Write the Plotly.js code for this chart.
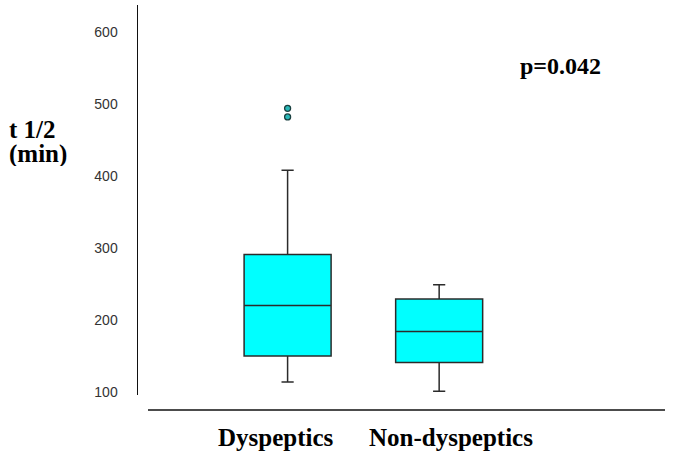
<!DOCTYPE html>
<html>
<head>
<meta charset="utf-8">
<script src="https://cdn.plot.ly/plotly-3.0.1.min.js"></script>
<style>html,body{margin:0;padding:0;background:#fff;}#chart{width:685px;height:456px;}</style>
</head>
<body>
<div id="chart"></div>
<script>
// Data
const categories = ["Dyspeptics", "Non-dyspeptics"];
const q1Values = [150, 141];
const medianValues = [220, 184];
const q3Values = [291, 229];
const lowerWhisker = [114, 101];
const upperWhisker = [408, 249];
const outlierCategory = ["Dyspeptics", "Dyspeptics"];
const outlierValues = [494, 482];
const yTickValues = [100, 200, 300, 400, 500, 600];
const pValueLabel = "p=0.042";
const yTitleLines = ["t 1/2", "(min)"];

const boxTrace = {
  type: "box",
  x: categories,
  q1: q1Values,
  median: medianValues,
  q3: q3Values,
  lowerfence: lowerWhisker,
  upperfence: upperWhisker,
  fillcolor: "#00FFFF",
  line: {color: "#2b2b2b", width: 1.5},
  width: 0.574,
  whiskerwidth: 0.14,
  boxpoints: false,
  hoverinfo: "skip",
  showlegend: false
};

const outlierTrace = {
  type: "scatter",
  mode: "markers",
  x: outlierCategory,
  y: outlierValues,
  marker: {color: "#2ab8b8", size: 6, line: {color: "#1a4040", width: 1.3}},
  hoverinfo: "skip",
  showlegend: false
};

const serif = "Liberation Serif, Times New Roman, serif";
const L = 138, R = 20, T = 5, B = 61;
const W = 685 - L - R, H = 456 - T - B;
const px = v => (v - L) / W;
const py = v => (456 - B - v) / H;

const labelFont = {family: serif, size: 25, color: "#000"};

const layout = {
  width: 685, height: 456,
  margin: {l: L, r: R, t: T, b: B, pad: 0},
  paper_bgcolor: "#ffffff",
  plot_bgcolor: "#ffffff",
  showlegend: false,
  xaxis: {
    type: "category",
    range: [-0.987, 2.49],
    showticklabels: false,
    showgrid: false,
    zeroline: false,
    showline: false,
    ticks: "",
    fixedrange: true
  },
  yaxis: {
    range: [95.8, 637.5],
    tickvals: yTickValues,
    ticktext: yTickValues.map(String),
    tickfont: {family: "Liberation Sans, Arial, sans-serif", size: 14, color: "#333333"},
    ticks: "",
    ticklabelstandoff: 16,
    showgrid: false,
    zeroline: false,
    showline: true,
    linecolor: "#111111",
    linewidth: 1.5,
    fixedrange: true
  },
  shapes: [{
    type: "line", xref: "paper", yref: "paper",
    x0: px(148), x1: px(665), y0: py(410), y1: py(410),
    line: {color: "#111111", width: 1.5}
  }],
  annotations: [
    {text: "<b>" + categories[0] + "</b>", xref: "paper", yref: "paper", x: px(276), y: py(437),
     xanchor: "center", yanchor: "middle", showarrow: false, font: labelFont},
    {text: "<b>" + categories[1] + "</b>", xref: "paper", yref: "paper", x: px(451), y: py(437),
     xanchor: "center", yanchor: "middle", showarrow: false, font: labelFont},
    {text: "<b>" + pValueLabel + "</b>", xref: "paper", yref: "paper", x: px(560), y: py(66),
     xanchor: "center", yanchor: "middle", showarrow: false, font: {family: serif, size: 24, color: "#000"}},
    {text: "<b>" + yTitleLines[0] + "</b>", xref: "paper", yref: "paper", x: px(8), y: py(129),
     xanchor: "left", yanchor: "middle", align: "left", valign: "middle", height: 24, borderpad: 0,
     showarrow: false, font: labelFont},
    {text: "<b>" + yTitleLines[1] + "</b>", xref: "paper", yref: "paper", x: px(8), y: py(154),
     xanchor: "left", yanchor: "middle", align: "left", valign: "middle", height: 24, borderpad: 0,
     showarrow: false, font: labelFont}
  ]
};

Plotly.newPlot("chart", [boxTrace, outlierTrace], layout, {staticPlot: true, displayModeBar: false});
</script>
</body>
</html>
